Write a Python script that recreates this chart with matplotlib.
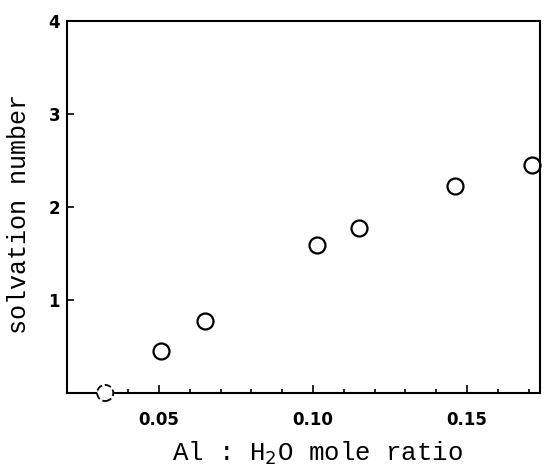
import numpy as np
import matplotlib
matplotlib.use('Agg')
import matplotlib.pyplot as plt
from matplotlib.ticker import MultipleLocator

ratio = [0.0506, 0.0649, 0.1013, 0.1149, 0.1461, 0.1711]
solv = [0.45, 0.77, 1.59, 1.77, 2.23, 2.45]
# unsicherer Punkt (gestrichelt)
ratio_dash = [0.0325]
solv_dash = [0.0]

xticks = [0.05, 0.10, 0.15]
xticklabels = ['0.05', '0.10', '0.15']
yticks = [1, 2, 3, 4]

plt.rcParams['font.family'] = 'DejaVu Sans'
plt.rcParams['axes.linewidth'] = 1.5

fig = plt.figure(figsize=(5.48, 4.68), dpi=100)
ax = fig.add_axes([0.1223, 0.1603, 0.8631, 0.7947])

ax.plot(ratio, solv, 'o', markersize=11.5, markerfacecolor='white',
        markeredgecolor='black', markeredgewidth=1.6, clip_on=False)
ax.scatter(ratio_dash, solv_dash, s=135, facecolors='white', edgecolors='black',
           linewidths=1.3, linestyles='--', clip_on=False, zorder=5)

ax.set_xlim(0.0201, 0.1737)
ax.set_ylim(0, 4)
ax.set_xticks(xticks)
ax.set_xticklabels(xticklabels)
ax.xaxis.set_minor_locator(MultipleLocator(0.01))
ax.set_yticks(yticks)

ax.tick_params(axis='x', which='major', direction='in', length=6, width=1.2,
               labelsize=12, pad=13)
ax.tick_params(axis='x', which='minor', direction='in', length=3, width=1.2)
ax.tick_params(axis='y', which='major', direction='in', length=5, width=1.2,
               labelsize=12, pad=5)
for lab in ax.get_xticklabels() + ax.get_yticklabels():
    lab.set_fontweight('bold')

ax.set_xlabel('Al : H$_2$O mole ratio', family='Liberation Mono', fontsize=18.5)
ax.set_ylabel('solvation number', family='Liberation Mono', fontsize=18)
ax.xaxis.set_label_coords(0.53, -0.125)
ax.yaxis.set_label_coords(-0.076, 0.4825)

fig.savefig('out.png', dpi=100)
